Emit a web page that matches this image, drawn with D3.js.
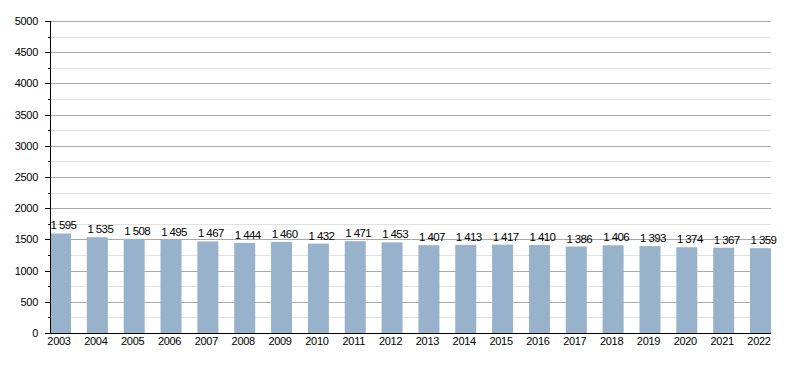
<!DOCTYPE html>
<html>
<head>
<meta charset="UTF-8">
<script src="https://d3js.org/d3.v7.min.js"></script>
<style>
  body { margin: 0; background: #fff; }
  text { font-family: "Liberation Sans", Arial, sans-serif; font-size: 11px; fill: #000; letter-spacing: -0.3px; }
  .val { font-size: 11.5px; letter-spacing: -0.6px; }
</style>
</head>
<body>
<div id="chart"></div>
<script>
const years = ["2003","2004","2005","2006","2007","2008","2009","2010","2011","2012",
               "2013","2014","2015","2016","2017","2018","2019","2020","2021","2022"];
const population = [1595,1535,1508,1495,1467,1444,1460,1432,1471,1453,
                    1407,1413,1417,1410,1386,1406,1393,1374,1367,1359];
const majorTicks = [0,500,1000,1500,2000,2500,3000,3500,4000,4500,5000];
const minorTicks = [250,750,1250,1750,2250,2750,3250,3750,4250,4750];

const W = 800, H = 373;
const plotLeft = 50, plotRight = 771, plotTop = 21, plotBottom = 333;

const svg = d3.select("#chart").append("svg")
  .attr("width", W).attr("height", H);

const x = d3.scaleBand()
  .domain(years)
  .range([plotLeft, plotRight])
  .paddingInner(0.43)
  .paddingOuter(0);

const y = d3.scaleLinear().domain([0, 5000]).range([plotBottom, plotTop]);

const fmt = d3.formatLocale({decimal: ".", thousands: " ", grouping: [3], currency: ["", ""]}).format(",d");

// gridlines
svg.append("g").selectAll("line").data(minorTicks).join("line")
  .attr("x1", plotLeft).attr("x2", plotRight)
  .attr("y1", d => Math.round(y(d)) + 0.5).attr("y2", d => Math.round(y(d)) + 0.5)
  .attr("stroke", "#e2e2e2");
svg.append("g").selectAll("line").data(majorTicks.filter(d => d > 0)).join("line")
  .attr("x1", plotLeft).attr("x2", plotRight)
  .attr("y1", d => Math.round(y(d)) + 0.5).attr("y2", d => Math.round(y(d)) + 0.5)
  .attr("stroke", "#aaaaaa");

// bars
svg.append("g").selectAll("rect").data(population).join("rect")
  .attr("x", (d, i) => x(years[i]))
  .attr("y", d => y(d))
  .attr("width", x.bandwidth())
  .attr("height", d => plotBottom - y(d))
  .attr("fill", "#99b2cc");

// value labels
svg.append("g").selectAll("text").data(population).join("text")
  .attr("class", "val")
  .attr("x", (d, i) => x(years[i]) + x.bandwidth() / 2 + 3)
  .attr("y", d => y(d) - 4)
  .attr("text-anchor", "middle")
  .text(d => fmt(d));

// y axis
const yAxis = svg.append("g");
yAxis.append("line")
  .attr("x1", plotLeft + 0.5).attr("x2", plotLeft + 0.5)
  .attr("y1", plotTop).attr("y2", plotBottom)
  .attr("stroke", "#000");
yAxis.selectAll(".maj").data(majorTicks).join("line")
  .attr("class", "maj")
  .attr("x1", plotLeft - 5).attr("x2", plotLeft)
  .attr("y1", d => Math.round(y(d)) + 0.5).attr("y2", d => Math.round(y(d)) + 0.5)
  .attr("stroke", "#000");
yAxis.selectAll(".min").data(minorTicks).join("line")
  .attr("class", "min")
  .attr("x1", plotLeft - 2).attr("x2", plotLeft)
  .attr("y1", d => Math.round(y(d)) + 0.5).attr("y2", d => Math.round(y(d)) + 0.5)
  .attr("stroke", "#000");
yAxis.selectAll("text").data(majorTicks).join("text")
  .attr("x", 38)
  .attr("y", d => y(d) + 4)
  .attr("text-anchor", "end")
  .text(d => d);

// x axis
const xAxis = svg.append("g");
xAxis.append("line")
  .attr("x1", plotLeft).attr("x2", plotRight)
  .attr("y1", plotBottom + 0.5).attr("y2", plotBottom + 0.5)
  .attr("stroke", "#000");
xAxis.selectAll("text").data(years).join("text")
  .attr("x", d => x(d) + x.bandwidth() / 2 - 1.5)
  .attr("y", 345)
  .attr("text-anchor", "middle")
  .text(d => d);
</script>
</body>
</html>
